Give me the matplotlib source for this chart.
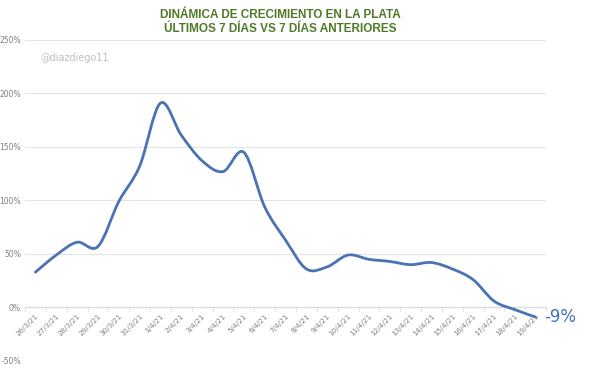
import numpy as np
import matplotlib.pyplot as plt
from matplotlib.path import Path
from matplotlib.patches import PathPatch
from matplotlib.ticker import FuncFormatter, FixedLocator

fechas = ['26/3/21', '27/3/21', '28/3/21', '29/3/21', '30/3/21', '31/3/21',
          '1/4/21', '2/4/21', '3/4/21', '4/4/21', '5/4/21', '6/4/21',
          '7/4/21', '8/4/21', '9/4/21', '10/4/21', '11/4/21', '12/4/21',
          '13/4/21', '14/4/21', '15/4/21', '16/4/21', '17/4/21', '18/4/21',
          '19/4/21']
crecimiento = [33, 49, 61, 57, 99, 132, 191, 161, 137, 127, 145, 94, 63,
               36, 38, 49, 45, 43, 40, 42, 36, 26, 6, -2, -9]
y_ticks = [-50, 0, 50, 100, 150, 200, 250]

azul = '#4A72B5'
gris_txt = '#7F7F7F'
verde = '#4E7A27'


def porcentaje(x, pos):
    return '%d%%' % x


def smooth_path(xs, ys, k=1.0 / 6):
    # bezier tipo Excel (catmull-rom) entre los puntos
    n = len(xs)
    verts = [(xs[0], ys[0])]
    codes = [Path.MOVETO]
    for i in range(n - 1):
        x0, y0 = (xs[i - 1], ys[i - 1]) if i > 0 else (xs[i], ys[i])
        x3, y3 = (xs[i + 2], ys[i + 2]) if i + 2 < n else (xs[i + 1], ys[i + 1])
        x1, y1 = xs[i], ys[i]
        x2, y2 = xs[i + 1], ys[i + 1]
        c1 = (x1 + (x2 - x0) * k, y1 + (y2 - y0) * k)
        c2 = (x2 - (x3 - x1) * k, y2 - (y3 - y1) * k)
        verts += [c1, c2, (x2, y2)]
        codes += [Path.CURVE4] * 3
    return Path(verts, codes)


fig = plt.figure(figsize=(5.99, 3.72), dpi=100)
ax = fig.add_axes([0.0417, 0.0296, 0.87, 0.863])

# primero mover el eje x a 0 (esto resetea los ticks)
for s in ['top', 'right', 'left']:
    ax.spines[s].set_visible(False)
ax.spines['bottom'].set_position(('data', 0))
ax.spines['bottom'].set_color('#D9D9D9')
ax.spines['bottom'].set_linewidth(0.8)

x = np.arange(len(fechas))
ax.add_patch(PathPatch(smooth_path(list(x), crecimiento), fill=False,
                       edgecolor=azul, lw=2.0, capstyle='round', zorder=3))
ax.set_xlim(-0.5, len(fechas) - 0.5)
ax.set_ylim(-50, 250)

ax.set_yticks(y_ticks)
ax.yaxis.set_major_formatter(FuncFormatter(porcentaje))
ax.grid(axis='y', color='#E4E4E4', lw=0.8)
ax.set_axisbelow(True)

ax.set_xticks(x)
ax.set_xticklabels(fechas, rotation=45, ha='right', va='top',
                   rotation_mode='anchor', fontsize=5.2, color=gris_txt)
ax.xaxis.set_minor_locator(FixedLocator(np.arange(-0.5, len(fechas), 1)))
ax.tick_params(axis='x', which='major', length=0, pad=4)
ax.tick_params(axis='x', which='minor', length=3, color='#D9D9D9', width=0.6)
ax.tick_params(axis='y', length=0, labelsize=5.5, labelcolor=gris_txt, pad=3)

ax.annotate('%d%%' % crecimiento[-1], xy=(x[-1], crecimiento[-1]),
            xytext=(6, 0), textcoords='offset points', va='center',
            ha='left', fontsize=12, color='#4472C4')

fig.text(0.468, 0.941, 'DINÁMICA DE CRECIMIENTO EN LA PLATA\nÚLTIMOS 7 DÍAS VS 7 DÍAS ANTERIORES',
         ha='center', va='center', fontsize=8.5, fontweight='bold',
         color=verde, family='Liberation Sans', linespacing=1.25)
fig.text(0.067, 0.845, '@diazdiego11', fontsize=7, color='#BFBFBF',
         va='center', ha='left')

fig.savefig('out.png', dpi=100)
